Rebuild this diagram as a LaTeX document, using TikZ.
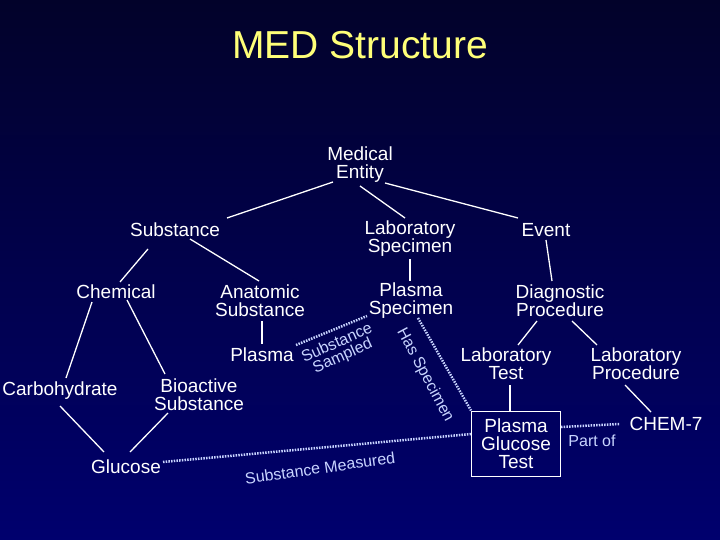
\documentclass[tikz,border=0pt]{standalone}
\usepackage{fontspec}
\setmainfont{Liberation Sans}
\begin{document}
\begin{tikzpicture}[x=1pt,y=-1pt,
 n/.style={text=white,font=\fontsize{19}{19}\selectfont,align=center,inner sep=2pt},
 lab/.style={text=lb,font=\fontsize{16}{16}\selectfont,inner sep=0pt},
 ln/.style={white,line width=1.3pt},
 dl/.style={lb,line width=2.5pt,dash pattern=on 1.5pt off 1.2pt}]
\definecolor{lb}{HTML}{C8D4FF}
\definecolor{top}{HTML}{02022A}
\definecolor{bot}{HTML}{00006E}
\shade[top color=top,bottom color=bot] (0,0) rectangle (720,540);
\useasboundingbox (0,0) rectangle (720,540);
\node[text={rgb,255:red,255;green,255;blue,120},font=\fontsize{39}{39}\selectfont] (title) at (360,45) {MED Structure};
\node[n] (me) at (360,165) {Medical\\[-1pt]Entity};
\node[n] (sub) at (175,230) {Substance};
\node[n] (ls) at (410,239) {Laboratory\\[-1pt]Specimen};
\node[n] (ev) at (546,230) {Event};
\node[n] (chem) at (116,292) {Chemical};
\node[n] (anat) at (260,301) {Anatomic\\[-1pt]Substance};
\node[n] (ps) at (411,301) {Plasma\\[-1pt]Specimen};
\node[n] (dp) at (560,301) {Diagnostic\\[-1pt]Procedure};
\node[n] (pl) at (262,355) {Plasma};
\node[n] (carb) at (60,391) {Carbohydrate};
\node[n] (bio) at (199,395) {Bioactive\\[-1pt]Substance};
\node[n] (lt) at (506,364) {Laboratory\\[-1pt]Test};
\node[n] (lp) at (636,364) {Laboratory\\[-1pt]Procedure};
\node[n] (glu) at (126,467) {Glucose};
\node[n,draw=white,line width=1pt,minimum width=89pt,minimum height=65pt,inner sep=1pt] (pgt) at (516,443.5) {Plasma\\[-1pt]Glucose\\[-1pt]Test};
\node[n] (c7) at (666,424) {CHEM-7};
\draw[ln] (333,182) -- (227,218);
\draw[ln] (360,186) -- (405,218);
\draw[ln] (385,183) -- (518,218);
\draw[ln] (148,249) -- (120,282);
\draw[ln] (190,239) -- (259,281);
\draw[ln] (410,259) -- (410,281);
\draw[ln] (546,240) -- (552,281);
\draw[ln] (92,302) -- (66,378);
\draw[ln] (127,300) -- (165,374);
\draw[ln] (262,321) -- (262,344);
\draw[ln] (60,406) -- (104,452);
\draw[ln] (168,413) -- (130,452);
\draw[ln] (537,321) -- (518,345);
\draw[ln] (572,321) -- (597,345);
\draw[ln] (510,385) -- (510,411);
\draw[ln] (625,385) -- (651,412);
\draw[dl] (163,462) -- (pgt.west |- 0,434);
\draw[dl] (296,345) -- (367,316);
\draw[dl] (418,318) -- (pgt.north west);
\draw[dl] (pgt.east |- 0,427) -- (620,424);
\node[lab,rotate=8] (sm) at (320,468) {Substance Measured};
\node[lab,rotate=24,align=center] (ss) at (340,350) {Substance\\[-2pt]Sampled};
\node[lab,rotate=-62] (hs) at (425,375) {Has Specimen};
\node[lab] (po) at (592,441) {Part of};
\end{tikzpicture}
\end{document}
